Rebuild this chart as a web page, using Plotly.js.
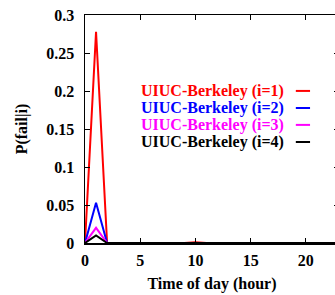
<!DOCTYPE html>
<html>
<head>
<meta charset="utf-8">
<script src="https://cdn.plot.ly/plotly-3.0.1.min.js"></script>
<style>html,body{margin:0;padding:0;overflow:hidden;background:#fff;}</style>
</head>
<body>
<div id="chart"></div>
<script>
var hours = [0,1,2,3,4,5,6,7,8,9,10,11,12,13,14,15,16,17,18,19,20,21,22,23];
var seriesNames = ["UIUC-Berkeley (i=1)","UIUC-Berkeley (i=2)","UIUC-Berkeley (i=3)","UIUC-Berkeley (i=4)"];
var seriesColors = ["#ff0000","#0000ff","#ff00ff","#000000"];
var p1 = [0,0.278,0,0,0,0,0,0,0,0,0.001,0,0,0,0,0.0003,0,0.0004,0,0,0.0006,0,0,0];
var p2 = [0,0.053,0,0,0,0,0,0,0,0,0.0002,0,0,0,0,0,0,0,0,0,0,0,0,0];
var p3 = [0,0.02,0,0,0,0,0,0,0,0,0,0,0,0,0,0,0,0,0,0,0,0,0,0];
var p4 = [0,0.01,0,0,0,0,0,0,0,0,0,0,0,0,0,0,0,0,0,0,0,0,0,0];
var series = [p1,p2,p3,p4];
var xTicks = [0,5,10,15,20];
var yTicks = [0,0.05,0.1,0.15,0.2,0.25,0.3];
var yTickText = ["0","0.05","0.1","0.15","0.2","0.25","0.3"];

var font = {family:"Liberation Serif", size:16, color:"#000", weight:"bold"};
var traces = series.map(function(s,i){
  return {x:hours, y:s, type:"scatter", mode:"lines", name:seriesNames[i],
          line:{color:seriesColors[i], width:2}, showlegend:false};
});

var annotations = [], shapes = [];
var legY = [0.667,0.592,0.518,0.443];
seriesNames.forEach(function(n,i){
  annotations.push({xref:"paper", yref:"paper", x:0.791, y:legY[i], xanchor:"right", yanchor:"middle",
    text:n, showarrow:false, font:{family:font.family, size:16, color:seriesColors[i], weight:"bold"}});
  shapes.push({type:"line", xref:"paper", yref:"paper", x0:0.830, x1:0.886, y0:legY[i], y1:legY[i],
    line:{color:seriesColors[i], width:2}});
});

var layout = {
  width:340, height:295,
  margin:{l:85, r:1, t:15, b:52},
  paper_bgcolor:"#fff", plot_bgcolor:"#fff",
  font:font,
  xaxis:{range:[0,23], tickvals:xTicks, ticks:"inside", ticklen:5, tickcolor:"#000",
    showline:true, linecolor:"#000", linewidth:1.5, mirror:"ticks", showgrid:false, zeroline:false,
    tickfont:font, ticklabelstandoff:2, title:{text:"Time of day (hour)", font:font, standoff:10}},
  yaxis:{range:[0,0.3], tickvals:yTicks, ticktext:yTickText, ticks:"inside", ticklen:5, tickcolor:"#000",
    showline:true, linecolor:"#000", linewidth:1.5, mirror:"ticks", showgrid:false, zeroline:false,
    tickfont:font, ticklabelstandoff:6, title:{text:"P(fail|i)", font:font, standoff:14}},
  annotations:annotations, shapes:shapes
};
Plotly.newPlot("chart", traces, layout, {staticPlot:true, displayModeBar:false});
</script>
</body>
</html>
